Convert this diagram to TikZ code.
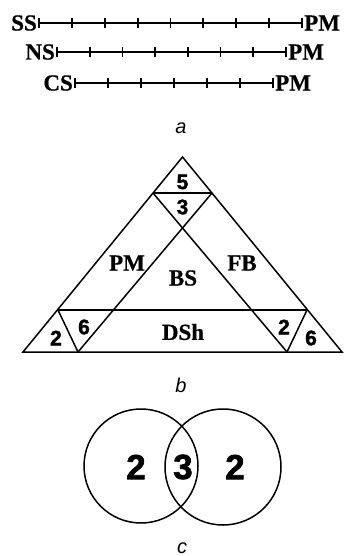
\documentclass[tikz,border=0pt]{standalone}
\usepackage{fontspec}
\setmainfont{Liberation Serif}[BoldFeatures={FakeBold=0.6}]
\newfontfamily\numfont{Liberation Sans}[BoldFeatures={FakeBold=1.6}]
\newfontfamily\capfont{Liberation Sans}
\begin{document}
\begin{tikzpicture}[x=1pt,y=-1pt,
 lab/.style={font=\fontsize{23}{23}\selectfont\bfseries, inner sep=0pt},
 num/.style={font=\fontsize{21}{21}\selectfont\numfont\bfseries, inner sep=0pt},
 big/.style={font=\fontsize{35}{35}\selectfont\numfont\bfseries, inner sep=0pt},
 captxt/.style={font=\fontsize{20}{20}\selectfont\capfont\itshape, inner sep=0pt},
 bar/.style={line width=2.4pt},
 tick/.style={line width=1.8pt},
 edge/.style={line width=1.5pt},
 ring/.style={circle, draw, line width=1.5pt, inner sep=0pt}]
\useasboundingbox (0,0) rectangle (343,556);
% ---- a ----
\coordinate (s1) at (39,23);  \coordinate (s2) at (302,23);
\coordinate (n1) at (57,52);  \coordinate (n2) at (286,52);
\coordinate (c1) at (75,83);  \coordinate (c2) at (273,83);
\node[lab, anchor=east] (ss) at (37,23) {SS};
\node[lab, anchor=west] (pm1) at (304,23) {PM};
\node[lab, anchor=east] (ns) at (55,52) {NS};
\node[lab, anchor=west] (pm2) at (288,52) {PM};
\node[lab, anchor=east] (cs) at (73,83) {CS};
\node[lab, anchor=west] (pm3) at (275,83) {PM};
\draw[bar] (s1) -- (s2);
\draw[bar] (n1) -- (n2);
\draw[bar] (c1) -- (c2);
\foreach \i in {0,...,8} \draw[tick] (39+\i*32.875,18) -- ++(0,10);
\foreach \i in {0,...,7} \draw[tick] (57+\i*32.714,47) -- ++(0,10);
\foreach \i in {0,...,6} \draw[tick] (75+\i*33,78) -- ++(0,10);
\node[captxt] (capa) at (181,128) {a};
% ---- b ----
\coordinate (A) at (182.5,157);
\coordinate (BL) at (23,352);
\coordinate (BR) at (342,352);
\coordinate (T1) at (153,193);
\coordinate (T2) at (212,193);
\coordinate (B1) at (78,352);
\coordinate (B2) at (287,352);
\coordinate (H1) at (58,310);
\coordinate (H2) at (307,310);
\draw[edge, line join=miter] (A) -- (BR) -- (BL) -- cycle;
\draw[edge] (T1) -- (T2);
\draw[edge] (H1) -- (H2);
\draw[edge] (T1) -- (B2);
\draw[edge] (T2) -- (B1);
\draw[edge] (H1) -- (B1);
\draw[edge] (H2) -- (B2);
\node[num] (n5) at (182.5,182) {5};
\node[num] (n3) at (182.5,207) {3};
\node[lab] (pmb) at (127,263) {PM};
\node[lab] (fb) at (242,263) {FB};
\node[lab] (bs) at (183,278) {BS};
\node[lab] (dsh) at (183,332) {DSh};
\node[num] (l2) at (56,338) {2};
\node[num] (l6) at (84,327) {6};
\node[num] (r2) at (284,327) {2};
\node[num] (r6) at (311,338) {6};
\node[captxt] (capb) at (181,385) {b};
% ---- c ----
\node[ring, minimum size=114pt] (cl) at (141,466) {};
\node[ring, minimum size=116pt] (cr) at (223,467) {};
\node[big] (d1) at (136,467) {2};
\node[big] (d2) at (183,467) {3};
\node[big] (d3) at (235,467) {2};
\node[captxt] (capc) at (182,548) {c};
\end{tikzpicture}
\end{document}
